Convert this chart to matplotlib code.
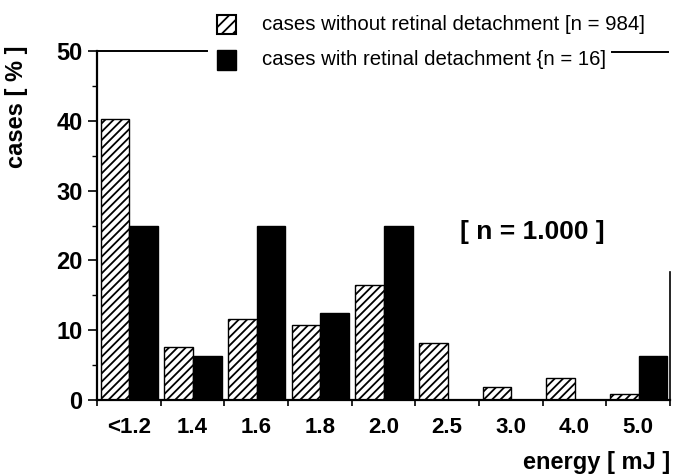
import numpy as np
import matplotlib
matplotlib.use('Agg')
import matplotlib.pyplot as plt
from matplotlib import font_manager
from matplotlib.patches import Rectangle

plt.rcParams['font.family'] = ['Liberation Sans', 'DejaVu Sans']
plt.rcParams['hatch.linewidth'] = 1.3

# data
energy = ['<1.2', '1.4', '1.6', '1.8', '2.0', '2.5', '3.0', '4.0', '5.0']
without_rd = [40.3, 7.6, 11.6, 10.7, 16.5, 8.2, 1.8, 3.1, 0.9]
with_rd = [25.0, 6.25, 25.0, 12.5, 25.0, 0.0, 0.0, 0.0, 6.25]
label_without = 'cases without retinal detachment [n = 984]'
label_with = 'cases with retinal detachment {n = 16]'

W, H = 673, 474
fig = plt.figure(figsize=(W / 100, H / 100), dpi=100)
ax = fig.add_axes([97 / W, 1 - 400 / H, 573 / W, 349 / H])

x = np.arange(len(energy))
w = 0.45
ax.bar(x + 0.06, without_rd, width=w, align='edge', color='white',
       edgecolor='black', hatch='////', linewidth=1.0)
ax.bar(x + 0.06 + w, with_rd, width=w, align='edge', color='black',
       edgecolor='black', linewidth=1.0)

ax.set_xlim(0, len(energy))
ax.set_ylim(0, 50)

# x: ticks at group edges, labels at group centres
ax.set_xticks(np.arange(len(energy) + 1))
ax.set_xticklabels([])
ax.set_xticks(x + 0.5, minor=True)
ax.set_xticklabels(energy, minor=True, fontsize=16, fontweight='bold')
ax.tick_params(axis='x', which='major', direction='out', length=4, width=1.2)
ax.tick_params(axis='x', which='minor', length=0, pad=12)

ax.set_yticks(np.arange(0, 51, 10))
ax.set_yticks(np.arange(5, 50, 10), minor=True)
ax.set_yticklabels([str(v) for v in range(0, 51, 10)], fontsize=17, fontweight='bold')
ax.tick_params(axis='y', which='major', direction='out', length=6.5, width=1.2, pad=4)
ax.tick_params(axis='y', which='minor', direction='out', length=3.5, width=1.0)

for s in ['left', 'bottom']:
    ax.spines[s].set_linewidth(1.6)
ax.spines['top'].set_visible(False)
ax.spines['right'].set_bounds(0, 18.3)
ax.spines['right'].set_linewidth(1.2)

ax.set_ylabel('cases [ % ]', fontsize=17, fontweight='bold')
ax.yaxis.set_label_coords(-0.12, 0.84)
ax.set_xlabel('energy [ mJ ]', fontsize=17, fontweight='bold', ha='right')
ax.xaxis.set_label_coords(1.0, -0.145)

ax.text(6.83, 24, '[ n = 1.000 ]', fontsize=19, fontweight='bold',
        ha='center', va='center')

# legend drawn by hand above the plot
try:
    font_manager.findfont('Liberation Sans Narrow', fallback_to_default=False)
    leg_family, leg_size = ['Liberation Sans Narrow', 'Liberation Sans'], 18
except ValueError:
    leg_family, leg_size = ['Liberation Sans', 'DejaVu Sans'], 14.7

fig.patches.append(Rectangle((217 / W, 1 - 34 / H), 19 / W, 19 / H, transform=fig.transFigure,
                             facecolor='white', edgecolor='black', hatch='///', lw=1.5))
fig.patches.append(Rectangle((217 / W, 1 - 70 / H), 19 / W, 20 / H, transform=fig.transFigure,
                             facecolor='black', edgecolor='black', lw=1.0))
fig.text(262 / W, 1 - 30 / H, label_without, family=leg_family, size=leg_size, va='baseline')
t2 = fig.text(262 / W, 1 - 65 / H, label_with, family=leg_family, size=leg_size, va='baseline')

# top frame line broken by the legend
fig.canvas.draw()
x_end = t2.get_window_extent().x1 + 6
x_end_data = ax.transData.inverted().transform((x_end, 0))[0]
ax.plot([0, 1.72], [50, 50], color='black', lw=1.4, clip_on=False)
ax.plot([x_end_data, 8.97], [49.9, 49.9], color='black', lw=1.4, clip_on=False)

fig.savefig('out.png', dpi=100)
